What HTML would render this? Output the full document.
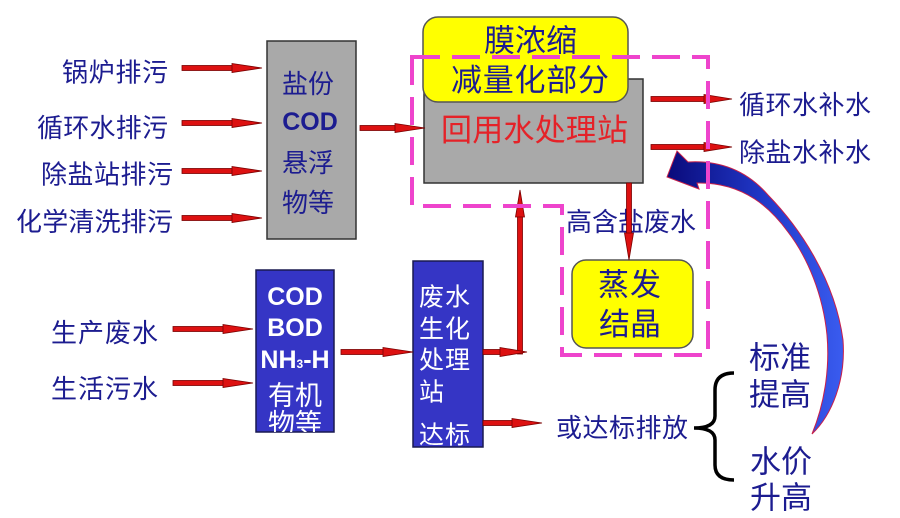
<!DOCTYPE html>
<html>
<head>
<meta charset="utf-8">
<style>
  html,body{margin:0;padding:0;background:#fff;}
  svg{display:block;}
  .t{font-family:"Liberation Sans","Noto Sans CJK SC",sans-serif;fill:#1c1c90;}
  .w{font-family:"Liberation Sans","Noto Sans CJK SC",sans-serif;fill:#ffffff;}
  .ar rect,.ar polygon{fill:#dd1111;stroke:#7a0000;stroke-width:0.8;}
</style>
</head>
<body>
<svg width="900" height="518" viewBox="0 0 900 518" xmlns="http://www.w3.org/2000/svg">
  <defs>
    <clipPath id="cb1"><rect x="256" y="270" width="78" height="162"/></clipPath>
    <linearGradient id="bg" x1="0" y1="0" x2="1" y2="0">
      <stop offset="0" stop-color="#0a0a7a"/>
      <stop offset="0.55" stop-color="#2038c8"/>
      <stop offset="1" stop-color="#3a5cf0"/>
    </linearGradient>
  </defs>

  <!-- Gray box 1 -->
  <rect x="267" y="41" width="89" height="198" fill="#a9a9a9" stroke="#333" stroke-width="1.5"/>
  <text class="t" x="282" y="93" font-size="26" textLength="52">盐份</text>
  <text class="t" x="310" y="130" font-size="25" font-weight="bold" text-anchor="middle">COD</text>
  <text class="t" x="282" y="172" font-size="26" textLength="52">悬浮</text>
  <text class="t" x="282" y="212" font-size="26" textLength="52">物等</text>

  <!-- Left labels -->
  <text class="t" x="62" y="81.5" font-size="26" textLength="106">锅炉排污</text>
  <text class="t" x="37" y="137" font-size="26" textLength="131">循环水排污</text>
  <text class="t" x="41" y="183.5" font-size="26" textLength="132">除盐站排污</text>
  <text class="t" x="16" y="231" font-size="26" textLength="157">化学清洗排污</text>

  <text class="t" x="51" y="342" font-size="26" textLength="107">生产废水</text>
  <text class="t" x="51" y="398" font-size="26" textLength="107">生活污水</text>

  <!-- Blue box 1 -->
  <rect x="256" y="270" width="78" height="162" fill="#3535c5" stroke="#1a1a50" stroke-width="1.5"/>
  <g clip-path="url(#cb1)">
    <text class="w" x="295" y="305" font-size="25" font-weight="bold" text-anchor="middle">COD</text>
    <text class="w" x="295" y="336" font-size="25" font-weight="bold" text-anchor="middle">BOD</text>
    <text class="w" x="295" y="368" font-size="25" font-weight="bold" text-anchor="middle">NH<tspan font-size="12">3</tspan>-H</text>
    <text class="w" x="268" y="405" font-size="27" textLength="54">有机</text>
    <text class="w" x="268" y="433" font-size="27" textLength="54">物等</text>
  </g>

  <!-- Blue box 2 -->
  <rect x="413" y="261" width="70" height="186" fill="#3535c5" stroke="#1a1a50" stroke-width="1.5"/>
  <text class="w" x="419" y="305.5" font-size="25" textLength="51">废水</text>
  <text class="w" x="419" y="337.5" font-size="25" textLength="51">生化</text>
  <text class="w" x="419" y="368.5" font-size="25" textLength="51">处理</text>
  <text class="w" x="419" y="400.5" font-size="25">站</text>
  <text class="w" x="419" y="443.5" font-size="25" textLength="51">达标</text>

  <!-- 回用水处理站 -->
  <rect x="424" y="79" width="219" height="104" fill="#a9a9a9" stroke="#333" stroke-width="1.5"/>
  <rect x="423" y="17" width="205" height="85" rx="15" ry="15" fill="#ffff00" stroke="#555" stroke-width="1.5"/>
  <text class="t" x="484" y="51.5" font-size="31" textLength="93">膜浓缩</text>
  <text class="t" x="451" y="91" font-size="31" textLength="158">减量化部分</text>
  <text x="441" y="141" font-size="31" textLength="187" style="font-family:'Liberation Sans','Noto Sans CJK SC',sans-serif;fill:#e52228;">回用水处理站</text>

  <!-- 蒸发结晶 -->
  <rect x="572" y="260" width="121" height="88" rx="14" ry="14" fill="#ffff00" stroke="#555" stroke-width="1.5"/>
  <text class="t" x="598" y="295.5" font-size="31" textLength="63">蒸发</text>
  <text class="t" x="599" y="335" font-size="31" textLength="62">结晶</text>

  <!-- right labels -->
  <text class="t" x="739" y="114" font-size="26" textLength="132">循环水补水</text>
  <text class="t" x="739" y="161.5" font-size="26" textLength="132">除盐水补水</text>
  <text class="t" x="566" y="231" font-size="26" textLength="130">高含盐废水</text>
  <text class="t" x="556" y="437" font-size="26" textLength="132">或达标排放</text>

  <text class="t" x="749" y="368.5" font-size="31" textLength="62">标准</text>
  <text class="t" x="749" y="405.5" font-size="31" textLength="62">提高</text>
  <text class="t" x="750" y="472.5" font-size="31" textLength="62">水价</text>
  <text class="t" x="750" y="508.5" font-size="31" textLength="62">升高</text>

  <!-- Arrows -->
  <g class="ar">
    <rect x="182" y="65.5" width="54" height="5"/><polygon points="232,63.5 262,68 232,72.5"/>
    <rect x="182" y="120.5" width="54" height="5"/><polygon points="232,118.5 262,123 232,127.5"/>
    <rect x="182" y="168.5" width="54" height="5"/><polygon points="232,166.5 262,171 232,175.5"/>
    <rect x="182" y="215.5" width="54" height="5"/><polygon points="232,213.5 262,218 232,222.5"/>
    <rect x="360" y="125.5" width="37" height="5"/><polygon points="395,123.5 425,128 395,132.5"/>
    <rect x="651" y="96.5" width="55" height="5"/><polygon points="704,94.5 732,99 704,103.5"/>
    <rect x="651" y="144.5" width="55" height="5"/><polygon points="704,142.5 732,147 704,151.5"/>
    <rect x="173" y="326.5" width="52" height="5"/><polygon points="223,324.5 253,329 223,333.5"/>
    <rect x="173" y="380.5" width="52" height="5"/><polygon points="223,378.5 253,383 223,387.5"/>
    <rect x="341" y="349.5" width="44" height="5"/><polygon points="383,347.5 413,352 383,356.5"/>
    <rect x="517.5" y="215" width="5" height="139"/><polygon points="515.5,217 520,190 524.5,217"/>
    <rect x="483" y="349.5" width="20" height="5"/><polygon points="500,347.5 527,352 500,356.5"/>
    <rect x="483" y="420.5" width="31" height="5"/><polygon points="512,418.5 542,423 512,427.5"/>
    <rect x="626.5" y="183" width="5" height="52"/><polygon points="624.5,233 629,260 633.5,233"/>
  </g>

  <!-- Curved blue arrow -->
  <path d="M667,177 L677,151 L688,162 C722,160 748,172 768,195 C800,228 835,280 843,340 C846,380 832,415 812,434 C824,405 830,370 827,335 C823,295 808,258 788,232 C772,210 745,182 697,183 L699,189 Z"
        fill="url(#bg)" stroke="#c8204a" stroke-width="1"/>

  <!-- dashed outline (drawn on top) -->
  <path d="M412,57 H708 V355 H562 V206 H412 Z" fill="none" stroke="#ee44cc" stroke-width="4" stroke-dasharray="28 12"/>

  <!-- Brace -->
  <path d="M734,373 Q715,373 715,390 L715,416 Q715,428 694,428 Q715,428 715,440 L715,465 Q715,480 734,480" fill="none" stroke="#000" stroke-width="3.5"/>
</svg>
</body>
</html>
